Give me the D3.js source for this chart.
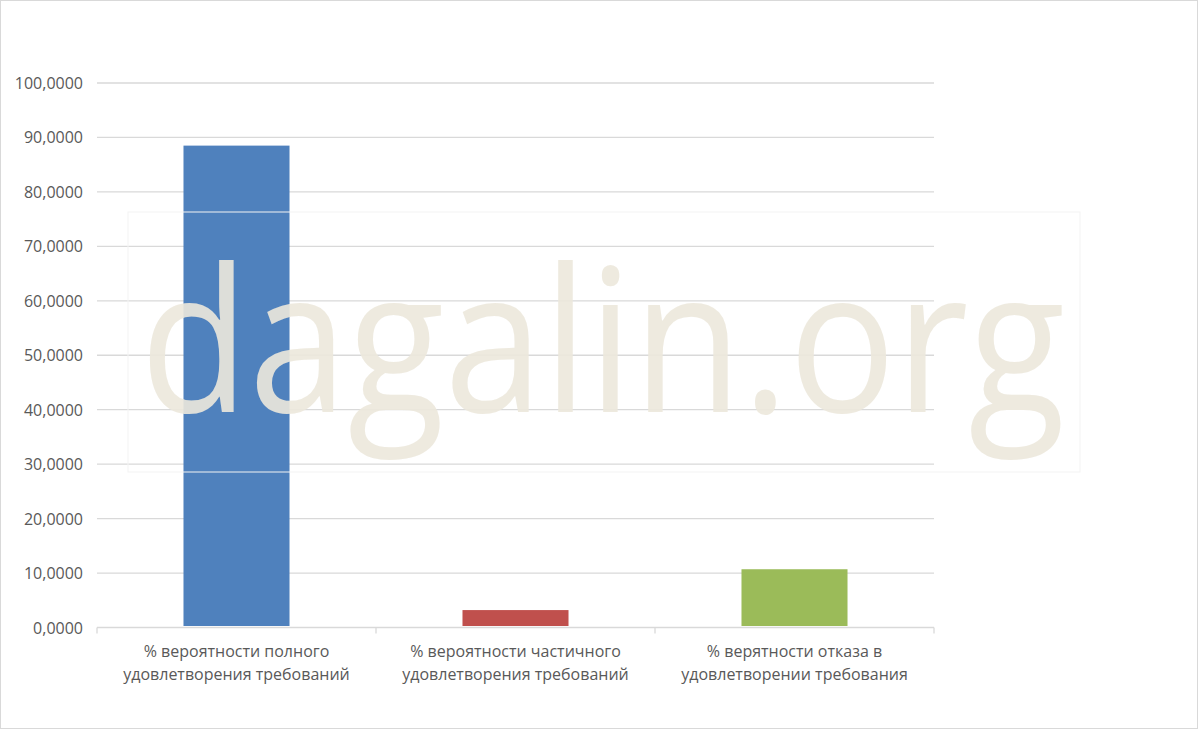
<!DOCTYPE html>
<html><head><meta charset="utf-8">
<script src="https://cdn.jsdelivr.net/npm/d3@7"></script>
<style>body{margin:0;background:#fff}svg{display:block}</style>
</head><body>
<svg id="c" width="1199" height="730"></svg>
<script>
const categories = [
  ["% вероятности полного", "удовлетворения требований"],
  ["% вероятности частичного", "удовлетворения требований"],
  ["% верятности отказа в", "удовлетворении требования"]
];
const values = [88.5, 3.2, 10.7];
const colors = ["#4f81bd", "#c0504d", "#9bbb59"];
const ticks = [0,10,20,30,40,50,60,70,80,90,100];

const FONT = "'Open Sans', 'Liberation Sans', sans-serif";
const svg = d3.select("#c");
svg.append("rect").attr("x",0.5).attr("y",0.5).attr("width",1197).attr("height",728)
  .attr("fill","#fff").attr("stroke","#d9d9d9");
const L=97, R=934, T=83, B=627.5;
const y = d3.scaleLinear().domain([0,100]).range([B,T]);
const x = d3.scaleBand().domain(d3.range(3)).range([L,R]).paddingInner(0.62).paddingOuter(0.31);
const xb = d3.scaleBand().domain(d3.range(3)).range([L,R]);

svg.append("g").selectAll("line").data(ticks.slice(1)).join("line")
  .attr("x1",L).attr("x2",R).attr("y1",d=>y(d)).attr("y2",d=>y(d))
  .attr("stroke","#d9d9d9").attr("stroke-width",1.3);
svg.append("g").selectAll("text").data(ticks).join("text")
  .attr("x",83).attr("y",d=>y(d)+6).attr("text-anchor","end")
  .attr("font-family",FONT).attr("font-size",16).attr("fill","#595959")
  .text(d=>d3.format(".4f")(d).replace(".",","));

svg.append("g").selectAll("rect").data(values).join("rect")
  .attr("x",(d,i)=>x(i)).attr("width",x.bandwidth())
  .attr("y",d=>y(d)).attr("height",d=>y(0)-y(d)-1.5).attr("fill",(d,i)=>colors[i]);

svg.append("line").attr("x1",L).attr("x2",R).attr("y1",B).attr("y2",B).attr("stroke","#d9d9d9").attr("stroke-width",1.3);
svg.append("g").selectAll("line").data([0,1,2,3]).join("line")
  .attr("x1",d=>L+d*xb.bandwidth()).attr("x2",d=>L+d*xb.bandwidth())
  .attr("y1",B).attr("y2",B+6).attr("stroke","#d9d9d9").attr("stroke-width",1.3);

const lab = svg.append("g").selectAll("text").data(categories).join("text")
  .attr("x",(d,i)=>xb(i)+xb.bandwidth()/2).attr("y",657).attr("text-anchor","middle")
  .attr("font-family",FONT).attr("font-size",16).attr("fill","#595959");
lab.selectAll("tspan").data(d=>d).join("tspan")
  .attr("x",function(){return this.parentNode.getAttribute("x");})
  .attr("dy",(d,j)=>j?23:0).text(d=>d);

// watermark
svg.append("rect").attr("x",128).attr("y",212).attr("width",952).attr("height",260)
  .attr("fill","none").attr("stroke","#f3f3f3");
svg.append("text").attr("x",140).attr("y",412).attr("font-family","'Open Sans', sans-serif")
  .attr("font-size",200).attr("fill","#ece8dc").attr("fill-opacity",0.9)
  .attr("textLength",925).attr("lengthAdjust","spacingAndGlyphs").text("dagalin.org");
</script>
</body></html>
